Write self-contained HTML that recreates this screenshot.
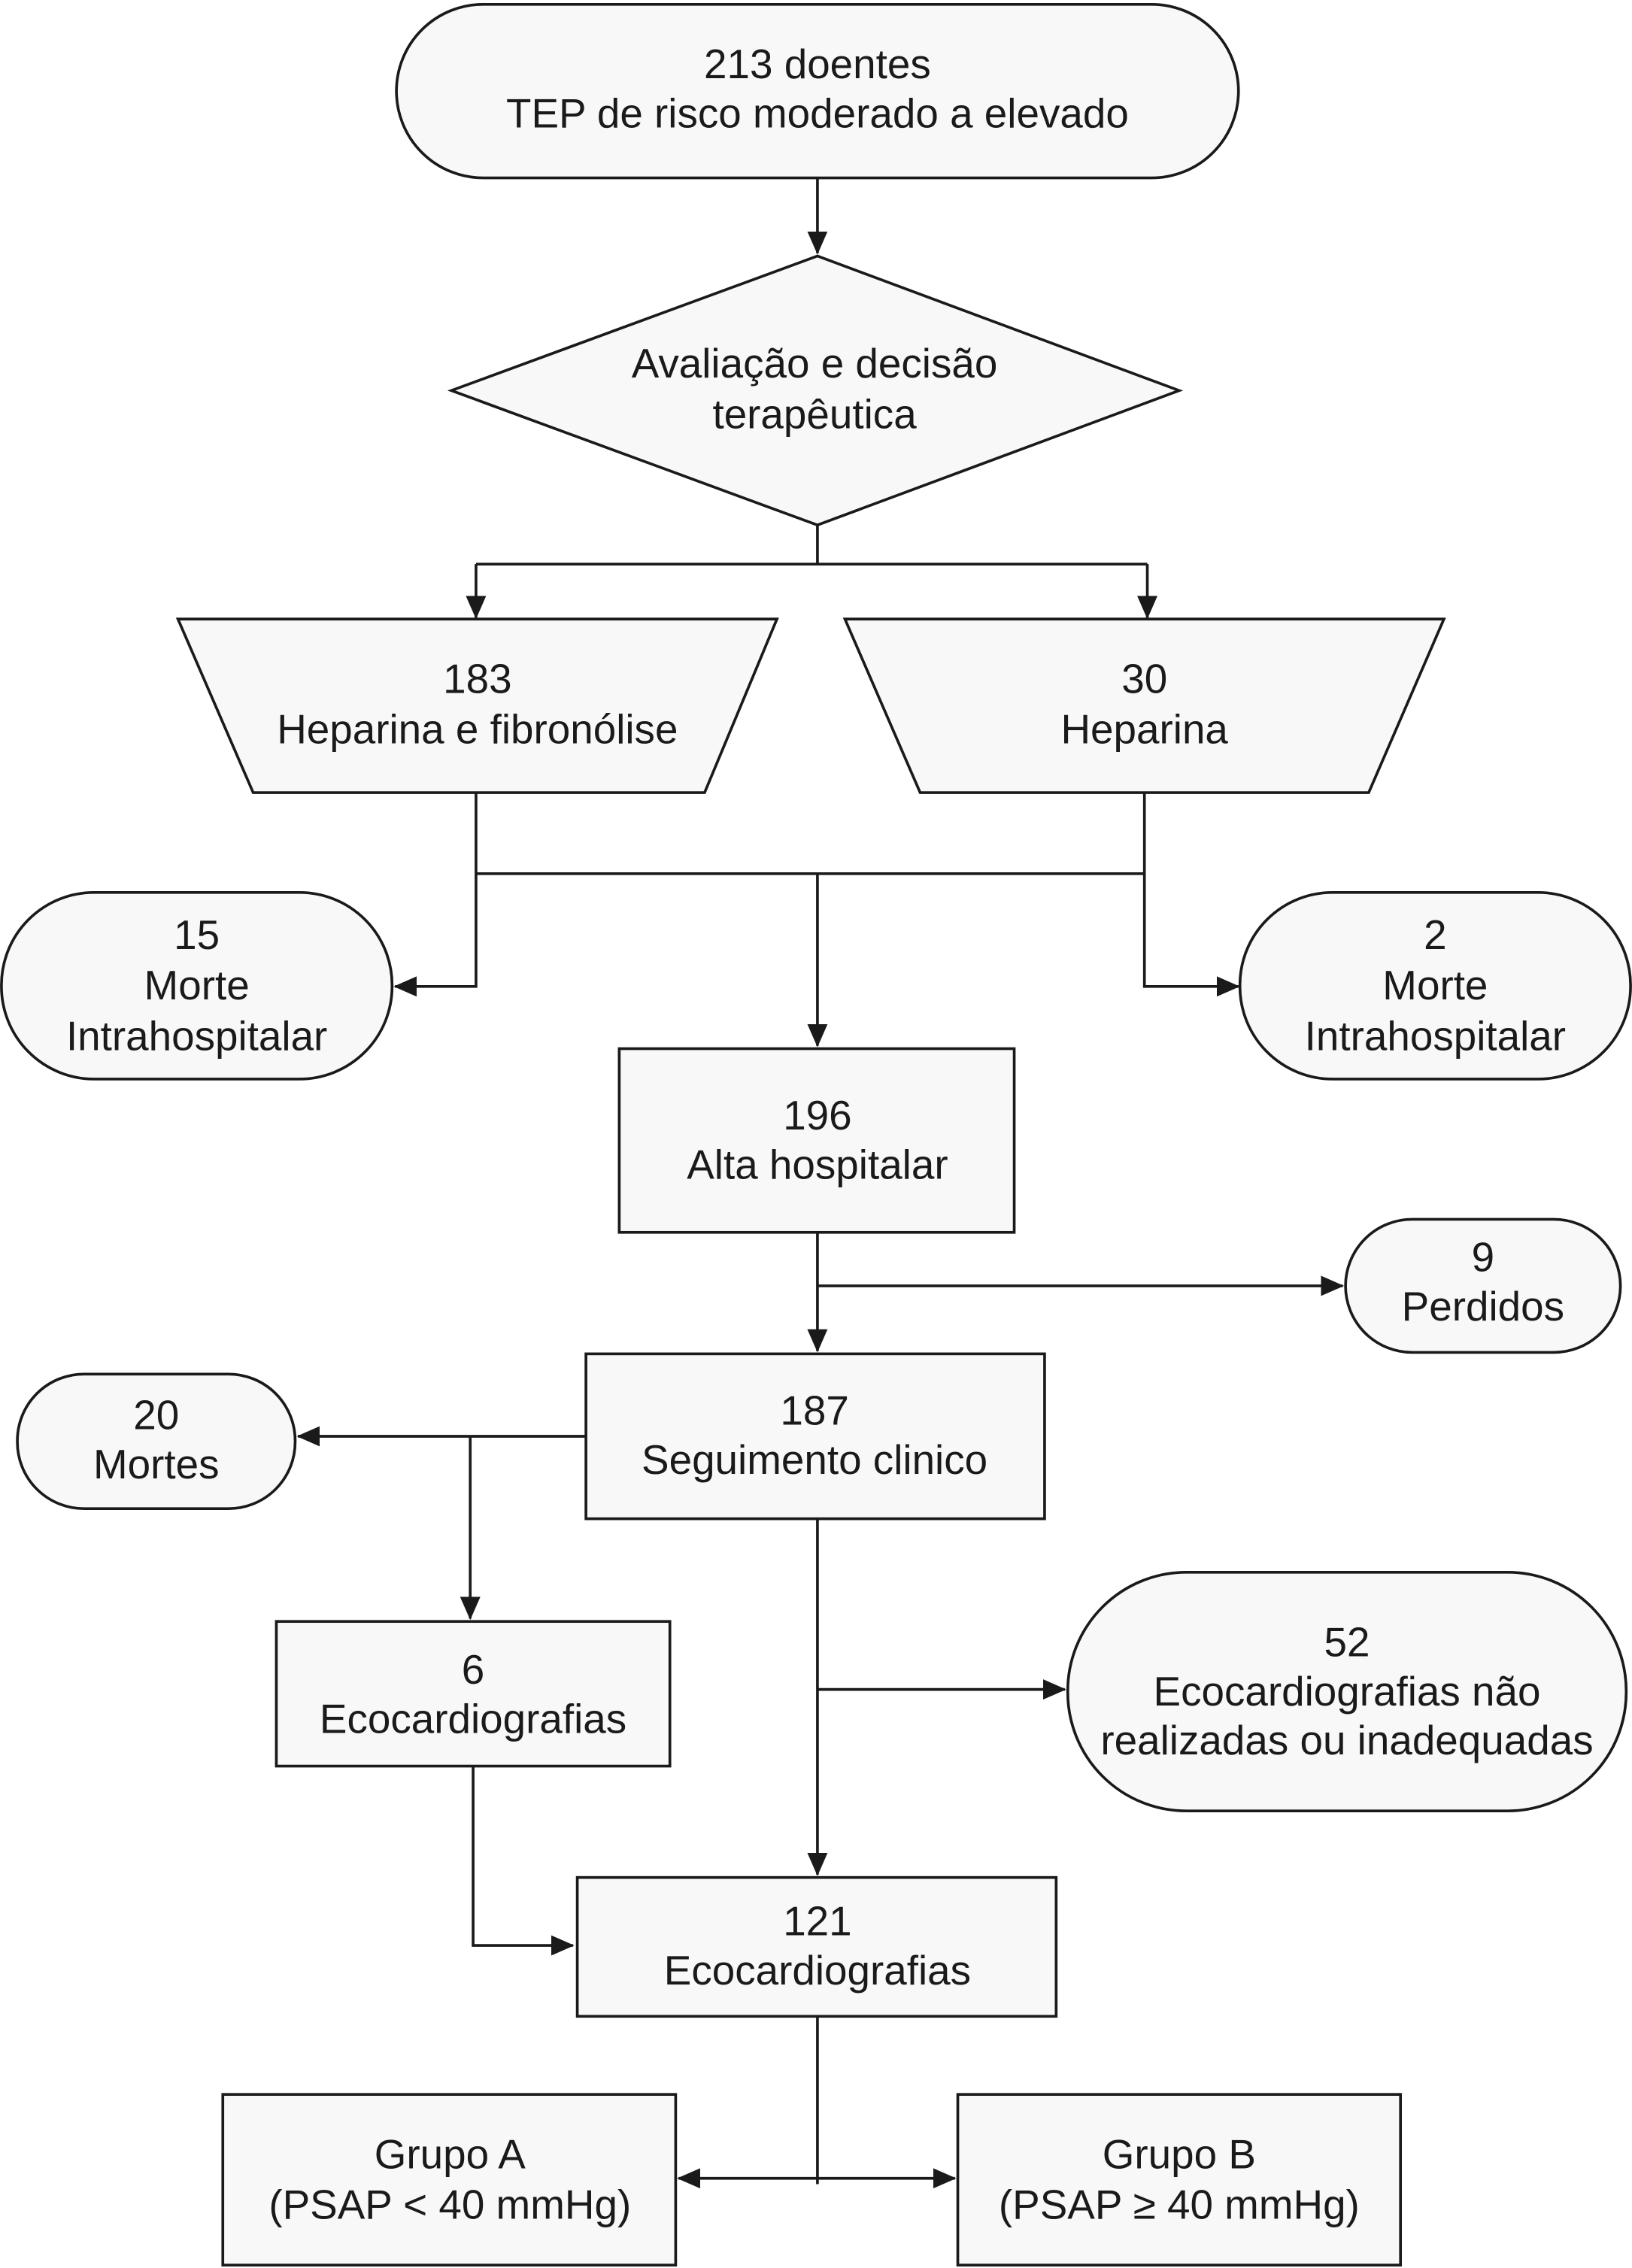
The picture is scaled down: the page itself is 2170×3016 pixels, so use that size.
<!DOCTYPE html>
<html><head><meta charset="utf-8"><style>
html,body{margin:0;padding:0;background:#fff}
svg{display:block}
text{font-family:"Liberation Sans",Arial,sans-serif;font-size:28.5px;fill:#1a1a1a;text-anchor:middle}
.s{fill:#f8f8f8;stroke:#1a1a1a;stroke-width:1.9}
.l{fill:none;stroke:#1a1a1a;stroke-width:1.9}
</style></head><body>
<svg width="2170" height="3016" viewBox="0 0 1128 1568" preserveAspectRatio="none" xmlns="http://www.w3.org/2000/svg">
<defs><marker id="a" markerWidth="16" markerHeight="14" refX="15" refY="7" orient="auto" markerUnits="userSpaceOnUse"><path d="M0,0 L16,7 L0,14 z" fill="#1a1a1a"/></marker>
<marker id="b" markerWidth="16" markerHeight="14" refX="1" refY="7" orient="auto" markerUnits="userSpaceOnUse"><path d="M16,0 L0,7 L16,14 z" fill="#1a1a1a"/></marker></defs>

<rect class="s" x="274" y="3" width="582" height="120" rx="60"/>
<text x="565" y="54">213 doentes</text><text x="565" y="88">TEP de risco moderado a elevado</text>
<line class="l" x1="565" y1="123" x2="565" y2="175" marker-end="url(#a)"/>

<polygon class="s" points="312,270 565,177 815,270 565,363"/>
<text x="563" y="261">Avaliação e decisão</text><text x="563" y="296">terapêutica</text>
<polyline class="l" points="565,363 565,390"/>
<line class="l" x1="329" y1="390" x2="793" y2="390"/>
<line class="l" x1="329" y1="390" x2="329" y2="427" marker-end="url(#a)"/>
<line class="l" x1="793" y1="390" x2="793" y2="427" marker-end="url(#a)"/>

<polygon class="s" points="123,428 537,428 487,548 175,548"/>
<text x="330" y="479">183</text><text x="330" y="514">Heparina e fibronólise</text>
<polygon class="s" points="584,428 998,428 946,548 636,548"/>
<text x="791" y="479">30</text><text x="791" y="514">Heparina</text>

<polyline class="l" points="329,548 329,682 273,682" marker-end="url(#a)"/>
<polyline class="l" points="791,548 791,682 856,682" marker-end="url(#a)"/>
<line class="l" x1="329" y1="604" x2="791" y2="604"/>
<line class="l" x1="565" y1="604" x2="565" y2="723" marker-end="url(#a)"/>

<rect class="s" x="1" y="617" width="270" height="129" rx="64"/>
<text x="136" y="656">15</text><text x="136" y="691">Morte</text><text x="136" y="726">Intrahospitalar</text>
<rect class="s" x="857" y="617" width="270" height="129" rx="64"/>
<text x="992" y="656">2</text><text x="992" y="691">Morte</text><text x="992" y="726">Intrahospitalar</text>

<rect class="s" x="428" y="725" width="273" height="127"/>
<text x="565" y="781">196</text><text x="565" y="815">Alta hospitalar</text>

<line class="l" x1="565" y1="852" x2="565" y2="934" marker-end="url(#a)"/>
<line class="l" x1="565" y1="889" x2="928" y2="889" marker-end="url(#a)"/>
<rect class="s" x="930" y="843" width="190" height="92" rx="46"/>
<text x="1025" y="879">9</text><text x="1025" y="913">Perdidos</text>

<rect class="s" x="405" y="936" width="317" height="114"/>
<text x="563" y="985">187</text><text x="563" y="1019">Seguimento clinico</text>
<line class="l" x1="405" y1="993" x2="206" y2="993" marker-end="url(#a)"/>
<rect class="s" x="12" y="950" width="192" height="93" rx="46"/>
<text x="108" y="988">20</text><text x="108" y="1022">Mortes</text>
<line class="l" x1="325" y1="993" x2="325" y2="1119" marker-end="url(#a)"/>

<rect class="s" x="191" y="1121" width="272" height="100"/>
<text x="327" y="1164">6</text><text x="327" y="1198">Ecocardiografias</text>

<line class="l" x1="565" y1="1050" x2="565" y2="1296" marker-end="url(#a)"/>
<line class="l" x1="565" y1="1168" x2="736" y2="1168" marker-end="url(#a)"/>
<rect class="s" x="738" y="1087" width="386" height="165" rx="82"/>
<text x="931" y="1145">52</text><text x="931" y="1179">Ecocardiografias não</text><text x="931" y="1213">realizadas ou inadequadas</text>

<polyline class="l" points="327,1221 327,1345 396,1345" marker-end="url(#a)"/>
<rect class="s" x="399" y="1298" width="331" height="96"/>
<text x="565" y="1338">121</text><text x="565" y="1372">Ecocardiografias</text>

<line class="l" x1="565" y1="1394" x2="565" y2="1510"/>
<line class="l" x1="469" y1="1506" x2="660" y2="1506" marker-start="url(#b)" marker-end="url(#a)"/>
<rect class="s" x="154" y="1448" width="313" height="118"/>
<text x="311" y="1499">Grupo A</text><text x="311" y="1534">(PSAP &lt; 40 mmHg)</text>
<rect class="s" x="662" y="1448" width="306" height="118"/>
<text x="815" y="1499">Grupo B</text><text x="815" y="1534">(PSAP ≥ 40 mmHg)</text>
</svg>
</body></html>
